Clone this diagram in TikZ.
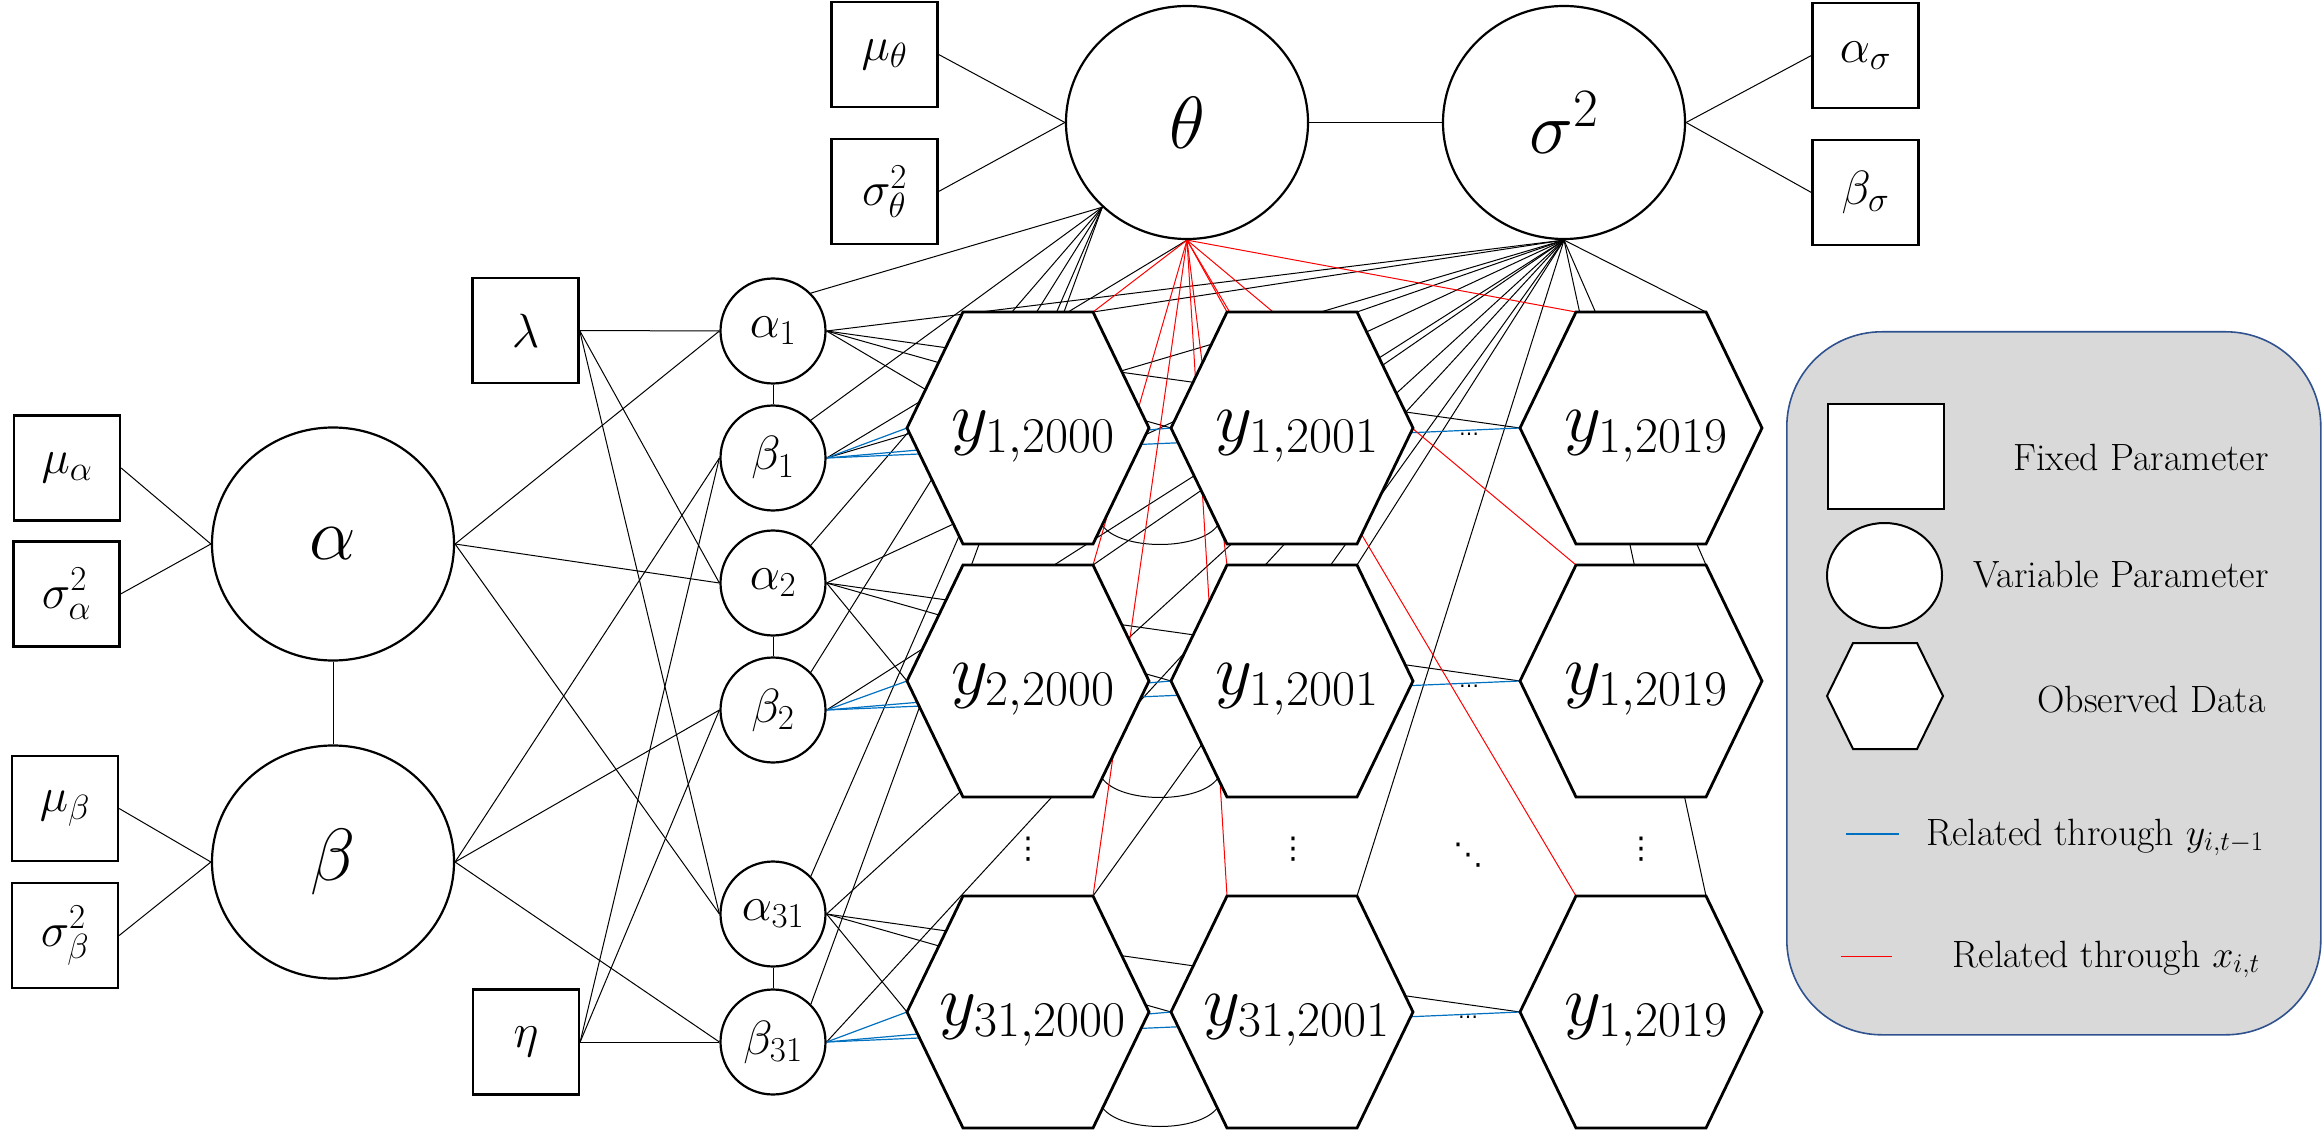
\RequirePackage{fix-cm}
\documentclass[tikz,border=0pt]{standalone}
\usepackage{fontspec}
\newfontfamily\dotsfont{DejaVu Sans}
\usetikzlibrary{shapes.geometric}
\DeclareMathSizes{48}{48}{35}{26}
\DeclareMathSizes{72}{72}{50}{36}
\DeclareMathSizes{74}{74}{54}{40}
\DeclareMathSizes{38}{38}{27}{20}
\pgfdeclarelayer{bg}
\pgfsetlayers{bg,main}
\definecolor{lnblue}{RGB}{0,112,192}
\definecolor{lnred}{RGB}{255,0,0}
\definecolor{legfill}{RGB}{217,217,217}
\definecolor{legborder}{RGB}{47,82,143}
\newcommand{\hexcell}[4]{%
  \coordinate (#1) at (#2,#3);
  \coordinate (#1W) at (#2-121,#3);
  \coordinate (#1E) at (#2+121,#3);
  \coordinate (#1TL) at (#2-65,#3-116);
  \coordinate (#1TR) at (#2+65,#3-116);
  \coordinate (#1BL) at (#2-65,#3+116);
  \coordinate (#1BR) at (#2+65,#3+116);
  \draw[hexshape] (#1W) -- (#1TL) -- (#1TR) -- (#1E) -- (#1BR) -- (#1BL) -- cycle;
  \node[hexlabel] (#1L) at (#2+5,#3+8) {#4};
}
\begin{document}
\begin{tikzpicture}[x=1pt,y=-1pt,
  fixedbox/.style={draw, line width=2.3pt, fill=white, minimum width=106pt, minimum height=105pt, inner sep=0pt, font=\fontsize{48}{56}\selectfont},
  bigvar/.style={draw, ellipse, line width=2.2pt, fill=white, minimum width=242pt, minimum height=233pt, inner sep=0pt, font=\fontsize{74}{86}\selectfont},
  smallvar/.style={draw, circle, line width=2.2pt, fill=white, minimum size=105pt, inner sep=0pt, font=\fontsize{48}{56}\selectfont},
  hexshape/.style={draw, line width=2.8pt, fill=white, line join=miter},
  hexlabel/.style={inner sep=0pt, font=\fontsize{72}{86}\selectfont},
  conn/.style={line width=1pt, black},
  connblue/.style={line width=1.2pt, lnblue},
  connred/.style={line width=1pt, lnred},
  legtext/.style={font=\fontsize{38}{45}\selectfont, inner sep=0pt},
  vdotsty/.style={font=\dotsfont\fontsize{30}{34}\selectfont, inner sep=0pt},
  hdotsty/.style={font=\dotsfont\fontsize{20}{24}\selectfont, inner sep=0pt}
]
\useasboundingbox (0,0) rectangle (2322,1131);

% ---------- legend ----------
\node[draw=legborder, fill=legfill, line width=1.6pt, rounded corners=95pt, minimum width=534pt, minimum height=703pt, anchor=north west, inner sep=0pt] (legend) at (1786,331) {};
\node[draw, line width=2.2pt, fill=white, minimum width=116pt, minimum height=105pt, inner sep=0pt] (legbox) at (1886,456.5) {};
\node[draw, ellipse, line width=2pt, fill=white, minimum width=115pt, minimum height=105pt, inner sep=0pt] (legell) at (1884.5,575.5) {};
\coordinate (leghex) at (1885,696);
\draw[line width=2pt, fill=white] (1827,696) -- (1853,643) -- (1917,643) -- (1943,696) -- (1917,749) -- (1853,749) -- cycle;
\coordinate (lbA) at (1846,834); \coordinate (lbB) at (1899,834);
\coordinate (lrA) at (1841,956); \coordinate (lrB) at (1892,956);
\draw[connblue] (lbA) -- (lbB);
\draw[connred] (lrA) -- (lrB);
\node[legtext, anchor=base east] (t1) at (2269,471) {Fixed Parameter};
\node[legtext, anchor=base east] (t2) at (2269,587) {Variable Parameter};
\node[legtext, anchor=base east] (t3) at (2266,712) {Observed Data};
\node[legtext, anchor=base east] (t4) at (2264,845) {Related through $y_{i,t-1}$};
\node[legtext, anchor=base east] (t5) at (2260,967) {Related through $x_{i,t}$};

% ---------- fixed parameters ----------
\node[fixedbox] (muth) at (884.5,54.5) {$\mu_\theta$};
\node[fixedbox] (sgth) at (884.5,191.5) {$\sigma_\theta^2$};
\node[fixedbox] (alsg) at (1865.5,55.5) {$\alpha_\sigma$};
\node[fixedbox] (besg) at (1865.5,192.5) {$\beta_\sigma$};
\node[fixedbox] (mual) at (67,468) {$\mu_\alpha$};
\node[fixedbox] (sgal) at (66.5,594) {$\sigma_\alpha^2$};
\node[fixedbox] (mube) at (65,808.5) {$\mu_\beta$};
\node[fixedbox] (sgbe) at (65,935.5) {$\sigma_\beta^2$};
\node[fixedbox] (lam) at (525.5,330.5) {$\lambda$};
\node[fixedbox] (eta) at (526,1042) {$\eta$};

% ---------- variable parameters ----------
\node[bigvar] (alpha) at (333,544) {$\alpha$};
\node[bigvar] (beta) at (333,862) {$\beta$};
\node[bigvar] (theta) at (1187,122.5) {$\theta$};
\node[bigvar] (sig) at (1564,122.5) {$\sigma^2$};
\node[smallvar] (a1) at (773,331) {$\alpha_1$};
\node[smallvar] (b1) at (773,458) {$\beta_1$};
\node[smallvar] (a2) at (773,583) {$\alpha_2$};
\node[smallvar] (b2) at (773,710) {$\beta_2$};
\node[smallvar] (a31) at (773,914) {$\alpha_{31}$};
\node[smallvar] (b31) at (773,1042) {$\beta_{31}$};

% ---------- observed data ----------
\hexcell{h11}{1028}{428}{$y_{1{,}2000}$}
\hexcell{h12}{1292}{428}{$y_{1{,}2001}$}
\hexcell{h13}{1641}{428}{$y_{1{,}2019}$}
\hexcell{h21}{1028}{681}{$y_{2{,}2000}$}
\hexcell{h22}{1292}{681}{$y_{1{,}2001}$}
\hexcell{h23}{1641}{681}{$y_{1{,}2019}$}
\hexcell{h31}{1028}{1012}{$y_{31{,}2000}$}
\hexcell{h32}{1292}{1012}{$y_{31{,}2001}$}
\hexcell{h33}{1641}{1012}{$y_{1{,}2019}$}
\coordinate (h11in) at (1028,450);

% dots
\node[hdotsty] (dh1) at (1469,437) {⋯};
\node[hdotsty] (dh2) at (1469,689) {⋯};
\node[hdotsty] (dh3) at (1468,1020) {⋯};
\node[vdotsty] (dv1) at (1028,849) {⋮};
\node[vdotsty] (dv2) at (1293,849) {⋮};
\node[vdotsty] (dv3) at (1641,849) {⋮};
\node[vdotsty] (dd) at (1468,855) {⋱};

% arcs between first and second column
\foreach \r/\cy in {1/428,2/681,3/1010} {
  \coordinate (arcA\r) at (1102,\cy+97);
  \coordinate (arcB\r) at (1218,\cy+97);
}

% ---------- connectors ----------
\begin{pgfonlayer}{bg}
\draw[conn] (muth.east) -- (theta.west);
\draw[conn] (sgth.east) -- (theta.west);
\draw[conn] (theta.east) -- (sig.west);
\draw[conn] (sig.east) -- (alsg.west);
\draw[conn] (sig.east) -- (besg.west);
\draw[conn] (mual.east) -- (alpha.west);
\draw[conn] (sgal.east) -- (alpha.west);
\draw[conn] (mube.east) -- (beta.west);
\draw[conn] (sgbe.east) -- (beta.west);
\draw[conn] (alpha.south) -- (beta.north);
\foreach \n in {a1,a2,a31} {
  \draw[conn] (alpha.east) -- (\n.west);
  \draw[conn] (lam.east) -- (\n.west);
}
\foreach \n in {b1,b2,b31} {
  \draw[conn] (beta.east) -- (\n.west);
  \draw[conn] (eta.east) -- (\n.west);
}
\draw[conn] (a1.south) -- (b1.north);
\draw[conn] (a2.south) -- (b2.north);
\draw[conn] (a31.south) -- (b31.north);
\foreach \n in {a1,b1,a2,b2,a31,b31} {
  \draw[conn] (theta.225) -- (\n.north east);
  \draw[conn] (sig.south) -- (\n.east);
}
\draw[conn] (b1.east) -- (theta.south);
\foreach \h in {h11,h12,h13,h21,h22,h23,h31,h32,h33} {
  \draw[conn] (sig.south) -- (\h TR);
}
\draw[conn] (a1.east) -- (h11in);
\draw[conn] (a1.east) -- (h12W);
\draw[conn] (a1.east) -- (h13W);
\draw[conn] (a2.east) -- (h21W);
\draw[conn] (a2.east) -- (h22W);
\draw[conn] (a2.east) -- (h23W);
\draw[conn] (a31.east) -- (h31W);
\draw[conn] (a31.east) -- (h32W);
\draw[conn] (a31.east) -- (h33W);
\foreach \r in {1,2,3} {
  \draw[conn] (arcA\r) .. controls +(18,26) and +(-18,26) .. (arcB\r);
}
% blue: through y_{i,t-1}
\draw[connblue] (b1.east) -- (h11W);
\draw[connblue] (b1.east) -- (h12W);
\draw[connblue] (b1.east) -- (h13W);
\draw[connblue] (b2.east) -- (h21W);
\draw[connblue] (b2.east) -- (h22W);
\draw[connblue] (b2.east) -- (h23W);
\draw[connblue] (b31.east) -- (h31W);
\draw[connblue] (b31.east) -- (h32W);
\draw[connblue] (b31.east) -- (h33W);
% red: through x_{i,t}
\draw[connred] (theta.south) -- (h11TR);
\draw[connred] (theta.south) -- (h21TR);
\draw[connred] (theta.south) -- (h31TR);
\draw[connred] (theta.south) -- (h12TL);
\draw[connred] (theta.south) -- (h22TL);
\draw[connred] (theta.south) -- (h32TL);
\draw[connred] (theta.south) -- (h13TL);
\draw[connred] (theta.south) -- (h23TL);
\draw[connred] (theta.south) -- (h33TL);
\end{pgfonlayer}
\end{tikzpicture}
\end{document}
